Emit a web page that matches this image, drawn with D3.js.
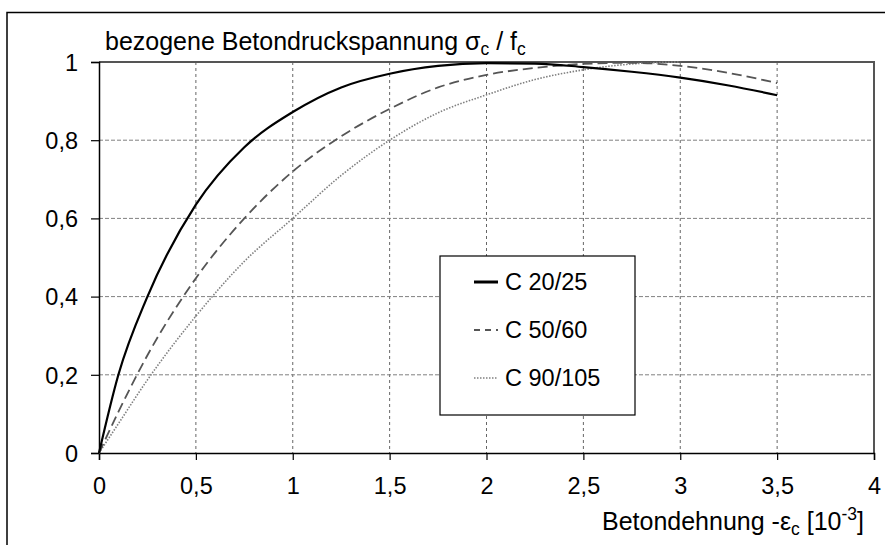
<!DOCTYPE html>
<html>
<head>
<meta charset="utf-8">
<script src="https://cdn.jsdelivr.net/npm/d3@7/dist/d3.min.js"></script>
<style>
  html, body { margin: 0; padding: 0; background: #fff; }
  svg { display: block; font-family: "Liberation Sans", Arial, sans-serif; }
</style>
</head>
<body>
<svg id="chart" width="885" height="545"></svg>
<script>
// ---- data ----
const strain = [0, 0.1, 0.25, 0.5, 0.75, 1, 1.25, 1.5, 1.75, 2, 2.25, 2.5, 2.75, 3, 3.25, 3.5];
const c20 = [0, 0.20, 0.40, 0.635, 0.782, 0.872, 0.935, 0.97, 0.99, 0.997, 0.996, 0.987, 0.975, 0.96, 0.94, 0.915];
const c50 = [0, 0.105, 0.25, 0.447, 0.60, 0.72, 0.81, 0.88, 0.935, 0.967, 0.985, 0.995, 0.998, 0.99, 0.972, 0.946];
const c90 = [0, 0.075, 0.187, 0.35, 0.49, 0.60, 0.71, 0.80, 0.87, 0.916, 0.955, 0.98, 0.995, 1.0, null, null];
const seriesNames = ["C 20/25", "C 50/60", "C 90/105"];
const xTicks = [0, 0.5, 1, 1.5, 2, 2.5, 3, 3.5, 4];
const xTickLabels = ["0", "0,5", "1", "1,5", "2", "2,5", "3", "3,5", "4"];
const yTicks = [0, 0.2, 0.4, 0.6, 0.8, 1];
const yTickLabels = ["0", "0,2", "0,4", "0,6", "0,8", "1"];

const svg = d3.select("#chart");
const L = 99, R = 874, T = 62, B = 453;
const x = d3.scaleLinear().domain([0, 4]).range([L, R]);
const y = d3.scaleLinear().domain([0, 1]).range([B, T]);

// outer frame
svg.append("path").attr("d", `M7,545 L7,12.5 L885,12.5`)
  .attr("fill", "none").attr("stroke", "#000").attr("stroke-width", 1.5);

// gridlines
const grid = svg.append("g");
grid.selectAll("line.vx").data(xTicks.filter(d => d > 0 && d < 4)).join("line")
  .attr("x1", d => x(d)).attr("x2", d => x(d)).attr("y1", T).attr("y2", B)
  .attr("stroke", "#666").attr("stroke-width", 1).attr("stroke-dasharray", "3,3");
grid.selectAll("line.hy").data(yTicks.filter(d => d > 0 && d < 1)).join("line")
  .attr("x1", L).attr("x2", R).attr("y1", d => y(d)).attr("y2", d => y(d))
  .attr("stroke", "#808080").attr("stroke-width", 1).attr("stroke-dasharray", "4,2");

// top and right frame of plot area
svg.append("path").attr("d", `M${L},${T} L${R},${T} L${R},${B}`)
  .attr("fill", "none").attr("stroke", "#555").attr("stroke-width", 2);

// axes
const xAxis = d3.axisBottom(x).tickValues(xTicks).tickFormat((d, i) => xTickLabels[i]).tickSizeOuter(0).tickSize(7).tickPadding(17);
const yAxis = d3.axisLeft(y).tickValues(yTicks).tickFormat((d, i) => yTickLabels[i]).tickSizeOuter(0).tickSize(8).tickPadding(13);
const gx = svg.append("g").attr("transform", `translate(0,${B})`).call(xAxis);
const gy = svg.append("g").attr("transform", `translate(${L},0)`).call(yAxis);
[gx, gy].forEach(g => {
  g.select(".domain").attr("stroke", "#000").attr("stroke-width", 1.5);
  g.selectAll(".tick line").attr("stroke", "#000").attr("stroke-width", 1.2);
  g.selectAll(".tick text").attr("fill", "#000").style("font-size", "23.5px")
    .style("font-family", "'Liberation Sans', Arial, sans-serif");
});
gy.selectAll(".tick text").attr("dy", "0.35em");

// curves
const pts = vals => strain.map((s, i) => [s, vals[i]]);
const line = d3.line().defined(d => d[1] !== null)
  .x(d => x(d[0])).y(d => y(d[1])).curve(d3.curveMonotoneX);
const styles = [
  { vals: c90, stroke: "#808080", width: 1.6, dash: "1.5,1.5" },
  { vals: c50, stroke: "#555", width: 1.8, dash: "10,5" },
  { vals: c20, stroke: "#000", width: 2.2, dash: null }
];
styles.forEach(s => {
  svg.append("path").datum(pts(s.vals)).attr("d", line)
    .attr("fill", "none").attr("stroke", s.stroke).attr("stroke-width", s.width)
    .attr("stroke-dasharray", s.dash);
});

// legend
const lg = svg.append("g");
lg.append("rect").attr("x", 440).attr("y", 256).attr("width", 195).attr("height", 159)
  .attr("fill", "#fff").attr("stroke", "#000").attr("stroke-width", 1.2);
const legendStyles = [
  { stroke: "#000", width: 3, dash: null },
  { stroke: "#555", width: 2, dash: "6,5" },
  { stroke: "#808080", width: 1.6, dash: "1.5,1.5" }
];
seriesNames.forEach((name, i) => {
  const cy = 282 + i * 48;
  lg.append("line").attr("x1", 474).attr("x2", 498).attr("y1", cy).attr("y2", cy)
    .attr("stroke", legendStyles[i].stroke).attr("stroke-width", legendStyles[i].width)
    .attr("stroke-dasharray", legendStyles[i].dash);
  lg.append("text").attr("x", 505).attr("y", cy).attr("dy", "0.35em")
    .style("font-size", "23.5px").attr("fill", "#000").text(name);
});

// titles
const t1 = svg.append("text").attr("x", 105).attr("y", 50).style("font-size", "25px").attr("fill", "#000");
t1.append("tspan").text("bezogene Betondruckspannung σ");
t1.append("tspan").attr("baseline-shift", "-25%").style("font-size", "17.5px").text("c");
t1.append("tspan").text(" / f");
t1.append("tspan").attr("baseline-shift", "-25%").style("font-size", "17.5px").text("c");

const t2 = svg.append("text").attr("x", 864).attr("y", 530).attr("text-anchor", "end").style("font-size", "25px").attr("fill", "#000");
t2.append("tspan").text("Betondehnung -ε");
t2.append("tspan").attr("baseline-shift", "-25%").style("font-size", "17.5px").text("c");
t2.append("tspan").text(" [10");
t2.append("tspan").attr("baseline-shift", "super").style("font-size", "17.5px").text("-3");
t2.append("tspan").text("]");
</script>
</body>
</html>
